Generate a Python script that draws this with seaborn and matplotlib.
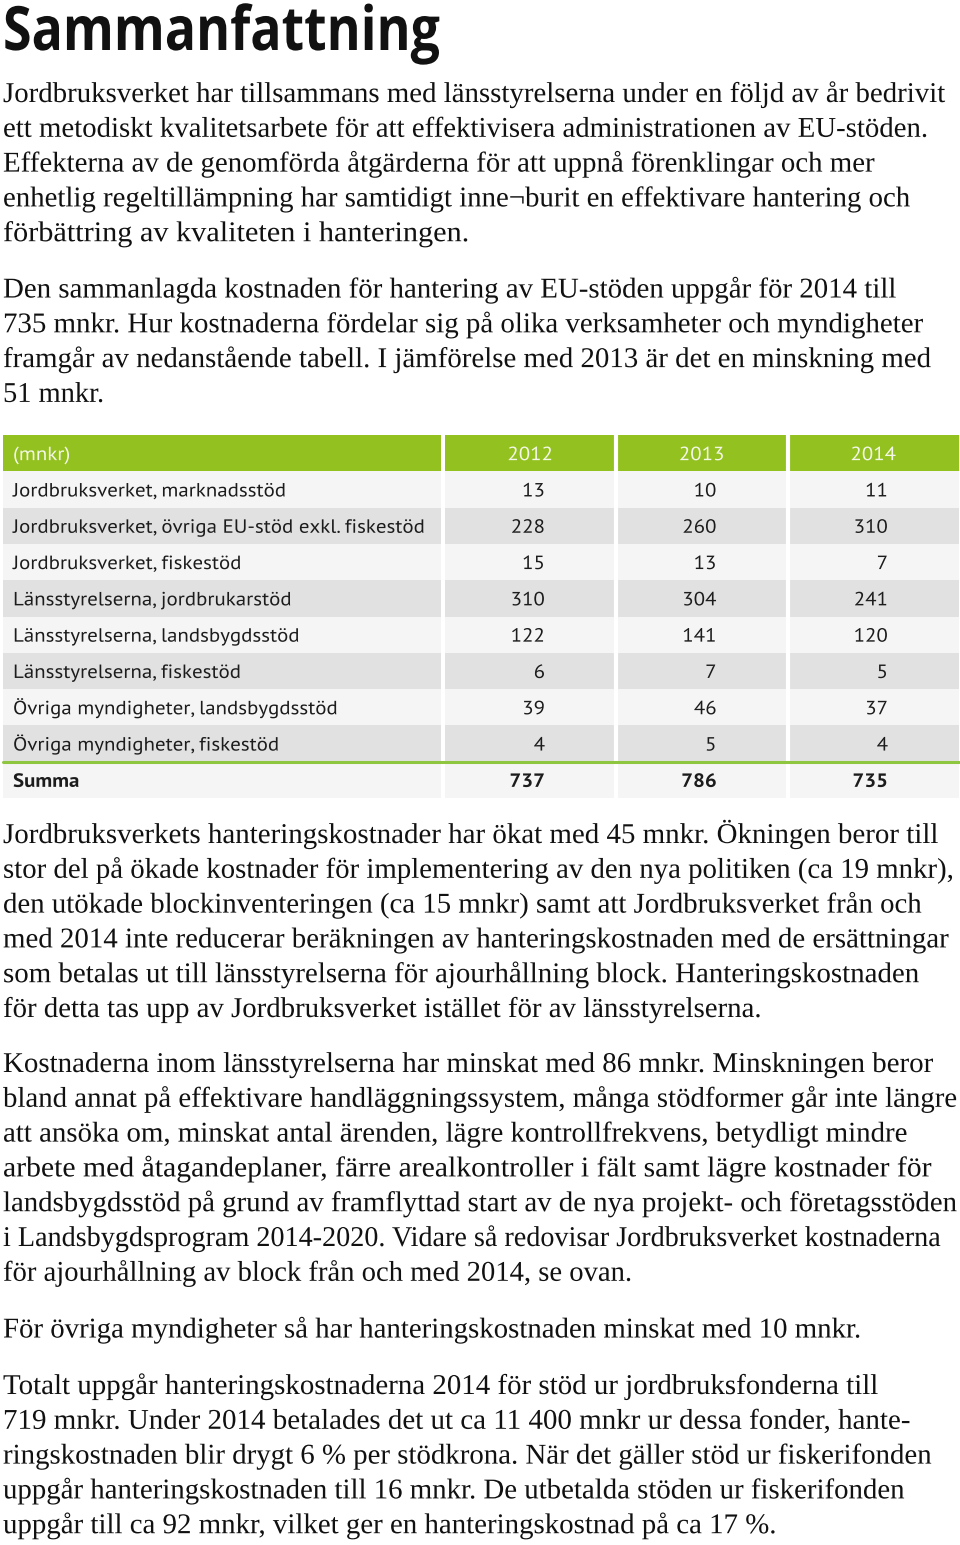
import matplotlib
matplotlib.use("Agg")
import matplotlib.pyplot as plt
import numpy as np
import pandas as pd
import seaborn as sns
from matplotlib import font_manager as fm
from matplotlib.colors import ListedColormap
from matplotlib.patheffects import AbstractPathEffect
from matplotlib.transforms import Affine2D
from matplotlib.lines import Line2D

# ---------------- data ----------------
title = "Sammanfattning"
row_labels = [
    "Jordbruksverket, marknadsstöd",
    "Jordbruksverket, övriga EU-stöd exkl. fiskestöd",
    "Jordbruksverket, fiskestöd",
    "Länsstyrelserna, jordbrukarstöd",
    "Länsstyrelserna, landsbygdsstöd",
    "Länsstyrelserna, fiskestöd",
    "Övriga myndigheter, landsbygdsstöd",
    "Övriga myndigheter, fiskestöd",
]
unit_label = "(mnkr)"
total_label = "Summa"
years = ["2012", "2013", "2014"]
v2012 = [13, 228, 15, 310, 122, 6, 39, 4]
v2013 = [10, 260, 13, 304, 141, 7, 46, 5]
v2014 = [11, 310, 7, 241, 120, 5, 37, 4]

para1 = [
    "Jordbruksverket har tillsammans med länsstyrelserna under en följd av år bedrivit",
    "ett metodiskt kvalitetsarbete för att effektivisera administrationen av EU-stöden.",
    "Effekterna av de genomförda åtgärderna för att uppnå förenklingar och mer",
    "enhetlig regeltillämpning har samtidigt inne¬burit en effektivare hantering och",
    "förbättring av kvaliteten i hanteringen.",
]
para2 = [
    "Den sammanlagda kostnaden för hantering av EU-stöden uppgår för 2014 till",
    "735 mnkr. Hur kostnaderna fördelar sig på olika verksamheter och myndigheter",
    "framgår av nedanstående tabell. I jämförelse med 2013 är det en minskning med",
    "51 mnkr.",
]
para3 = [
    "Jordbruksverkets hanteringskostnader har ökat med 45 mnkr. Ökningen beror till",
    "stor del på ökade kostnader för implementering av den nya politiken (ca 19 mnkr),",
    "den utökade blockinventeringen (ca 15 mnkr) samt att Jordbruksverket från och",
    "med 2014 inte reducerar beräkningen av hanteringskostnaden med de ersättningar",
    "som betalas ut till länsstyrelserna för ajourhållning block. Hanteringskostnaden",
    "för detta tas upp av Jordbruksverket istället för av länsstyrelserna.",
]
para4 = [
    "Kostnaderna inom länsstyrelserna har minskat med 86 mnkr. Minskningen beror",
    "bland annat på effektivare handläggningssystem, många stödformer går inte längre",
    "att ansöka om, minskat antal ärenden, lägre kontrollfrekvens, betydligt mindre",
    "arbete med åtagandeplaner, färre arealkontroller i fält samt lägre kostnader för",
    "landsbygdsstöd på grund av framflyttad start av de nya projekt- och företagsstöden",
    "i Landsbygdsprogram 2014-2020. Vidare så redovisar Jordbruksverket kostnaderna",
    "för ajourhållning av block från och med 2014, se ovan.",
]
para5 = [
    "För övriga myndigheter så har hanteringskostnaden minskat med 10 mnkr.",
]
para6 = [
    "Totalt uppgår hanteringskostnaderna 2014 för stöd ur jordbruksfonderna till",
    "719 mnkr. Under 2014 betalades det ut ca 11 400 mnkr ur dessa fonder, hante-",
    "ringskostnaden blir drygt 6 % per stödkrona. När det gäller stöd ur fiskerifonden",
    "uppgår hanteringskostnaden till 16 mnkr. De utbetalda stöden ur fiskerifonden",
    "uppgår till ca 92 mnkr, vilket ger en hanteringskostnad på ca 17 %.",
]

# ---------------- fonts ----------------
sns.set_theme(style="white")
available = {f.name for f in fm.fontManager.ttflist}


def pick(cands):
    for c in cands:
        if c in available:
            return c
    return cands[-1]


SERIF_NAME = pick(["Liberation Serif", "TeX Gyre Termes", "STIXGeneral", "DejaVu Serif"])
SANS_NAME = pick(["PT Sans", "Open Sans", "Noto Sans", "DejaVu Sans"])
TITLE_NAME = pick(["Open Sans", "PT Sans", "Noto Sans", "DejaVu Sans"])
SERIF = [SERIF_NAME, "DejaVu Serif"]
SANS = [SANS_NAME, "DejaVu Sans"]
TSANS = [TITLE_NAME, "DejaVu Sans"]
plt.rcParams["font.family"] = SERIF

W, H = 960, 1545
fig = plt.figure(figsize=(W / 100, H / 100), dpi=100)
fig.patch.set_facecolor("white")
renderer = fig.canvas.get_renderer()


class HStretch(AbstractPathEffect):
    """Horizontal scaling of glyphs around a display x anchor."""

    def __init__(self, sx, x0):
        super().__init__()
        self.sx = sx
        self.x0 = x0

    def draw_path(self, renderer, gc, tpath, affine, rgbFace=None):
        tr = affine + Affine2D().translate(-self.x0, 0).scale(self.sx, 1).translate(self.x0, 0)
        renderer.draw_path(gc, tpath, tr, rgbFace)


def fy(y):
    return 1 - y / H


LEFT = 3
t_title = fig.text(LEFT / W, fy(50), title, fontsize=44, fontweight="bold",
                   family=TSANS, color="#111111", va="baseline", ha="left")
wt = t_title.get_window_extent(renderer).width
t_title.set_path_effects([HStretch(437 / wt, LEFT)])

# paragraphs: (lines, first baseline, right edge of every line in pixels)
LINE = 34.8
paragraphs = [
    (para1, 102, [946, 929, 876, 911, 470]),
    (para2, 297.5, [897, 924, 932, 104]),
    (para3, 843, [939, 955, 923, 950, 920, 762]),
    (para4, 1072, [934, 958, 909, 933, 958, 941, 633]),
    (para5, 1337.5, [862]),
    (para6, 1394, [879, 911, 932, 905, 777]),
]
for lines, y0, rights in paragraphs:
    for i, (s, right) in enumerate(zip(lines, rights)):
        o = fig.text(LEFT / W, fy(y0 + i * LINE), s, fontsize=20.6, family=SERIF,
                     color="#111111", va="baseline", ha="left")
        w = o.get_window_extent(renderer).width
        o.set_path_effects([HStretch((right - LEFT) / w, LEFT)])

# ---------------- table ----------------
n_rows = len(row_labels) + 2
TOP, BOT = 435, 798
rh = (BOT - TOP) / n_rows
codes = [2] + [i % 2 for i in range(len(row_labels))] + [0]
cmap = ListedColormap(["#f5f5f5", "#e1e1e1", "#93c11f"])

lab_df = pd.DataFrame({"label": codes})
num_df = pd.DataFrame({y: codes for y in years})

ax_l = fig.add_axes([3 / W, fy(BOT), (441 - 3) / W, (BOT - TOP) / H])
ax_n = fig.add_axes([444.5 / W, fy(BOT), (959 - 444.5) / W, (BOT - TOP) / H])
for ax, df in ((ax_l, lab_df), (ax_n, num_df)):
    sns.heatmap(df, ax=ax, cmap=cmap, vmin=0, vmax=2, cbar=False, linewidths=0,
                xticklabels=False, yticklabels=False)
    ax.set_xlabel("")
    ax.set_ylabel("")
    for sp in ax.spines.values():
        sp.set_visible(False)
for xb in (1, 2):
    ax_n.axvline(xb, color="white", lw=3.0)

TXT = "#1c1c1c"
HDR = "#f4f8e8"
FS = 13.8
cells = []


def add(ax, x, row, s, ha, color=TXT, bold=False):
    yb = row + 0.5 + 7.0 / rh
    t = ax.text(x, yb, s, ha=ha, va="baseline", fontsize=FS, family=SANS,
                color=color, fontweight="bold" if bold else "normal")
    x0 = ax.transData.transform((x, yb))[0]
    cells.append((t, x0))
    return t


lab_x = (13 - 3) / (441 - 3)
add(ax_l, lab_x, 0, unit_label, "left", color=HDR)
longest = None
for i, lab in enumerate(row_labels):
    t = add(ax_l, lab_x, i + 1, lab, "left")
    if lab == max(row_labels, key=len):
        longest = t
add(ax_l, lab_x, n_rows - 1, total_label, "left", bold=True)

series = [v2012, v2013, v2014]
num_off = 1 - 71 / ((959 - 444.5) / 3)
for j, (yr, vals) in enumerate(zip(years, series)):
    add(ax_n, j + 0.5, 0, yr, "center", color=HDR)
    for i, v in enumerate(vals):
        add(ax_n, j + num_off, i + 1, str(v), "right")
    add(ax_n, j + num_off, n_rows - 1, str(sum(vals)), "right", bold=True)

sx_tab = (425 - 13) / longest.get_window_extent(renderer).width
for t, x0 in cells:
    t.set_path_effects([HStretch(sx_tab, x0)])

ysum = TOP + rh * (n_rows - 1)
fig.add_artist(Line2D([3 / W, 959 / W], [fy(ysum), fy(ysum)], color="#8ec63f", lw=2.2,
                      transform=fig.transFigure))

fig.savefig("out.png", dpi=100, facecolor="white")
